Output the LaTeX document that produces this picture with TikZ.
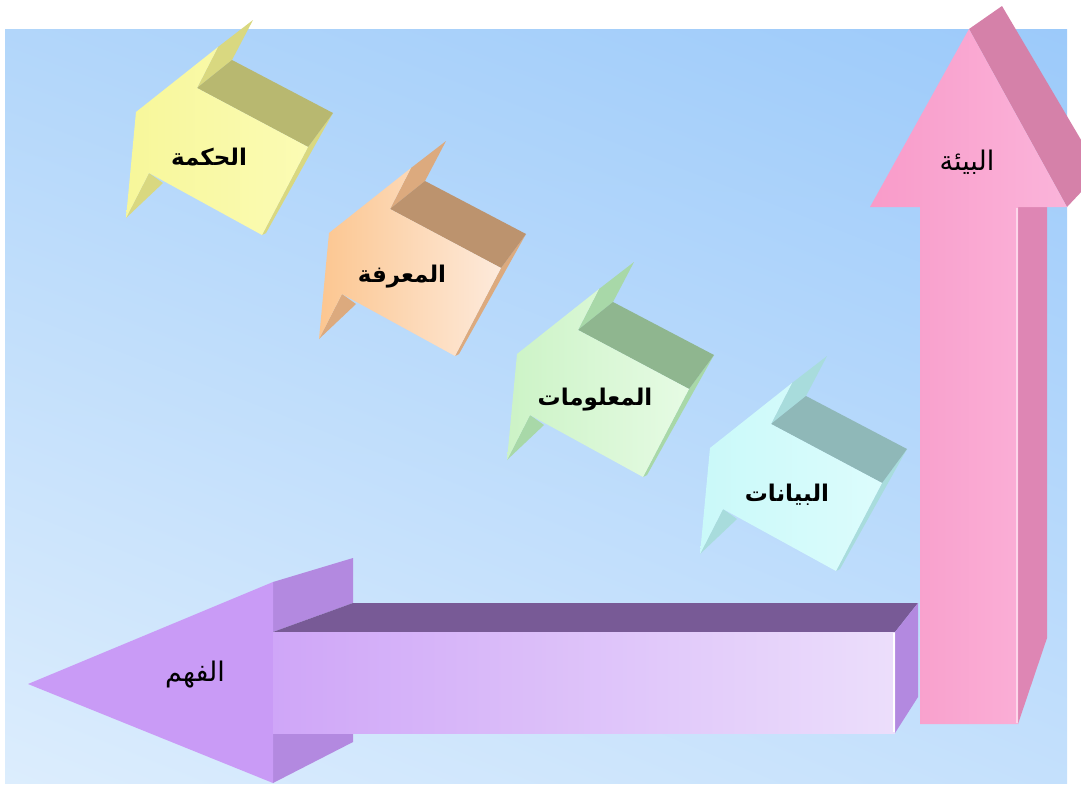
\documentclass[tikz,border=0pt]{standalone}
\usepackage{fontspec}
\newfontfamily\arabicfont[Script=Arabic]{DejaVu Sans}
\TeXXeTstate=1
\usetikzlibrary{shadings}
\definecolor{bgUL}{HTML}{B2D6FA}
\definecolor{bgUR}{HTML}{9CCAFA}
\definecolor{bgLL}{HTML}{DCEDFD}
\definecolor{bgLR}{HTML}{C4E0FC}
\definecolor{pinkL}{HTML}{F99BC9}
\definecolor{pinkR}{HTML}{FAB4DA}
\definecolor{pinkside}{HTML}{D581A9}
\definecolor{pinkshaft}{HTML}{DE86B4}
\definecolor{purphead}{HTML}{C99BF6}
\definecolor{purpL}{HTML}{CFA6F8}
\definecolor{purpR}{HTML}{ECDEFB}
\definecolor{purptop}{HTML}{785A96}
\definecolor{purpside}{HTML}{B389E0}
\definecolor{yelL}{HTML}{F7F79A}
\definecolor{yelR}{HTML}{FBFBB4}
\definecolor{yelTop}{HTML}{B8B870}
\definecolor{yelBarb}{HTML}{D9D880}
\definecolor{orL}{HTML}{FCC690}
\definecolor{orR}{HTML}{FDEADB}
\definecolor{orTop}{HTML}{BC936E}
\definecolor{orBarb}{HTML}{DCAA7E}
\definecolor{grL}{HTML}{CCF3C6}
\definecolor{grR}{HTML}{E6FBE4}
\definecolor{grTop}{HTML}{8FB68F}
\definecolor{grBarb}{HTML}{A8D8A8}
\definecolor{cyL}{HTML}{CAF9F9}
\definecolor{cyR}{HTML}{DCFCFC}
\definecolor{cyTop}{HTML}{8FB8B8}
\definecolor{cyBarb}{HTML}{A8DCDC}
\tikzset{
    lbl/.style={font=\arabicfont\bfseries\fontsize{23}{27}\selectfont,text=black,inner sep=0pt},
    biglbl/.style={font=\arabicfont\fontsize{27}{31}\selectfont,text=black,inner sep=0pt},
}
% slanted 3d arrow: #1 position, #2/#3 front colours, #4 top, #5 barbs
\newcommand{\slabarrow}[5]{%
  \begin{scope}[shift={#1}]
    \fill[#5] (21,-41) -- (56,-68) -- (35,-28) -- (0,0) -- cycle;
    \fill[#5] (-48,85) -- (-34,95) -- (-71,130) -- cycle;
    \fill[#5] (111,59) -- (136,25) -- (69,145) -- (65,147) -- cycle;
    \fill[#4] (0,0) -- (35,-28) -- (136,25) -- (111,59) -- cycle;
    \shade[left color=#2,right color=#3]
      (-61,24) -- (21,-41) -- (0,0) -- (111,59) -- (65,147) -- (-48,85) -- (-71,130) -- cycle;
  \end{scope}}

\begin{document}
\begin{tikzpicture}[x=1pt,y=-1pt]
\useasboundingbox (0,0) rectangle (1081,785);
\clip (0,0) rectangle (1081,785);
\shade[upper left=bgUL,upper right=bgUR,lower left=bgLL,lower right=bgLR]
    (5,29) rectangle (1067,783);

% the four steps
\slabarrow{(197,88)}{yelL}{yelR}{yelTop}{yelBarb}
\slabarrow{(390,209)}{orL}{orR}{orTop}{orBarb}
\slabarrow{(578,330)}{grL}{grR}{grTop}{grBarb}
\slabarrow{(771,424)}{cyL}{cyR}{cyTop}{cyBarb}

% up arrow
\fill[pinkside] (969,29) -- (1002,6) -- (1100,172) -- (1067,207) -- cycle;
\fill[pinkshaft] (1018,207) -- (1047,207) -- (1047,638) -- (1018,724) -- cycle;
\shade[left color=pinkL,right color=pinkR]
    (870,207) -- (969,29) -- (1067,207) -- (1018,207) -- (1018,724) -- (920,724) -- (920,207) -- cycle;
\draw[white,opacity=.5,line width=1.5pt] (1017,208) -- (1017,723);

% left arrow
\fill[purpside] (273,582) -- (353,558) -- (353,603) -- (273,632) -- cycle;
\fill[purpside] (273,733) -- (353,733) -- (353,742) -- (273,783) -- cycle;
\fill[purptop] (273,632) -- (353,603) -- (918,603) -- (895,632) -- cycle;
\fill[purpside] (895,632) -- (918,603) -- (918,697) -- (895,733) -- cycle;
\fill[purphead] (28,684) -- (273,582) -- (273,783) -- cycle;
\shade[left color=purpL,right color=purpR] (273,632) rectangle (895,733);
\draw[white,line width=1.5pt] (894,633) -- (894,732);

% labels
\node[lbl] (wisdom) at (209,157) {\beginR الحكمة\endR};
\node[lbl] (knowledge) at (402,277) {\beginR المعرفة\endR};
\node[lbl] (information) at (595,400) {\beginR المعلومات\endR};
\node[lbl] (data) at (787,495) {\beginR البيانات\endR};
\node[biglbl] (environment) at (967,162) {\beginR البيئة\endR};
\node[biglbl] (understanding) at (195,675) {\beginR الفهم\endR};
\end{tikzpicture}
\end{document}
